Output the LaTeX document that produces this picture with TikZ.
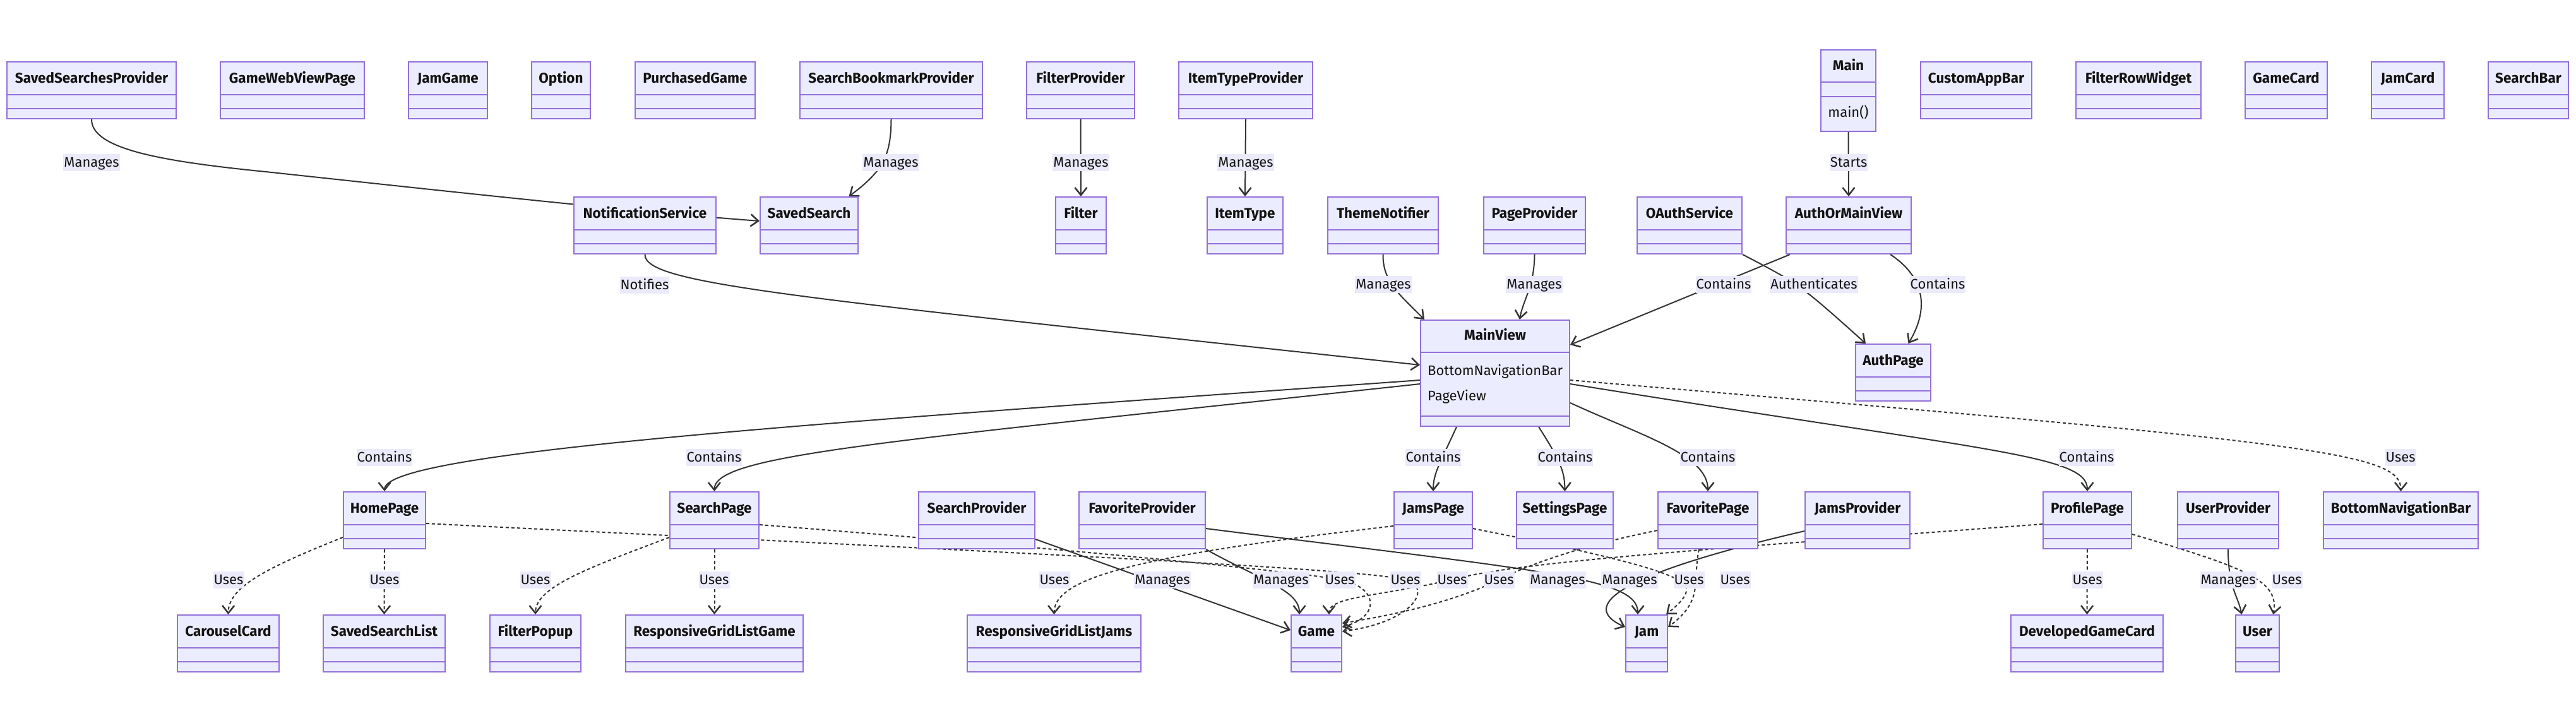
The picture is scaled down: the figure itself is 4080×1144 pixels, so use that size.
\documentclass[tikz,border=0pt]{standalone}
\usepackage{fontspec}
\setmainfont{Fira Sans}
\usetikzlibrary{arrows.meta,calc}
\definecolor{boxfill}{HTML}{ECECFF}
\definecolor{boxline}{HTML}{9370DB}
\definecolor{edgec}{HTML}{333333}
\definecolor{lblfill}{HTML}{EAEAFA}
\definecolor{txt}{HTML}{131313}
\pgfdeclarelayer{bg}
\pgfsetlayers{bg,main}
\tikzset{
  clsbox/.style={draw=boxline, fill=boxfill, line width=2pt, inner sep=0pt},
  divline/.style={draw=boxline, line width=2pt},
  clstitle/.style={font=\fontsize{22.5}{26}\selectfont\bfseries, text=txt, anchor=base, inner sep=0pt},
  member/.style={font=\fontsize{22}{26}\selectfont, text=txt, anchor=base, inner sep=0pt},
  lbl/.style={fill=lblfill, font=\fontsize{22}{26}\selectfont, text=txt, inner xsep=1pt, inner ysep=3pt, text height=18pt, text depth=3pt},
  rel/.style={draw=edgec, line width=2pt, -{Straight Barb[length=12pt,width=19pt,line width=2.5pt]}},
  uses/.style={rel, dash pattern=on 5pt off 4pt},
}
\newcommand\umlcls[4]{%
  \pgfmathsetmacro\ucx{(#2+#3)/2}%
  \pgfmathsetmacro\ucw{#3-#2}%
  \pgfmathsetmacro\ucy{#4+45}%
  \node[clsbox, minimum width=\ucw pt, minimum height=90pt] (#1) at (\ucx,\ucy) {};
  \draw[divline] (#2,#4+52) -- (#3,#4+52) (#2,#4+74) -- (#3,#4+74);
  \node[clstitle] (#1-t) at (\ucx,#4+33) {#1};
}
\begin{document}
\begin{tikzpicture}[x=1pt,y=-1pt]
\useasboundingbox (0,0) rectangle (4080,1144);
% ---------- row 1
\umlcls{SavedSearchesProvider}{11}{279}{98}
\umlcls{GameWebViewPage}{349}{577}{98}
\umlcls{JamGame}{647}{772}{98}
\umlcls{Option}{842}{935}{98}
\umlcls{PurchasedGame}{1006}{1196}{98}
\umlcls{SearchBookmarkProvider}{1267}{1556}{98}
\umlcls{FilterProvider}{1626}{1797}{98}
\umlcls{ItemTypeProvider}{1867}{2079}{98}
\umlcls{CustomAppBar}{3042}{3218}{98}
\umlcls{FilterRowWidget}{3288}{3486}{98}
\umlcls{GameCard}{3556}{3686}{98}
\umlcls{JamCard}{3756}{3871}{98}
\umlcls{SearchBar}{3941}{4068}{98}
% Main
\node[clsbox, minimum width=87pt, minimum height=129pt] (Main) at (2927.5,143.5) {};
\draw[divline] (2884,130) -- (2971,130) (2884,153) -- (2971,153);
\node[clstitle] (Main-t) at (2927.5,111) {Main};
\node[member] (Main-m) at (2927.5,185) {main()};
% ---------- row 2
\umlcls{NotificationService}{909}{1134}{312}
\umlcls{SavedSearch}{1204}{1359}{312}
\umlcls{Filter}{1672}{1752}{312}
\umlcls{ItemType}{1912}{2032}{312}
\umlcls{ThemeNotifier}{2103}{2278}{312}
\umlcls{PageProvider}{2350}{2511}{312}
\umlcls{OAuthService}{2593}{2759}{312}
\umlcls{AuthOrMainView}{2829}{3027}{312}
% MainView
\node[clsbox, minimum width=236pt, minimum height=168pt] (MainView) at (2368,591) {};
\draw[divline] (2250,558) -- (2486,558) (2250,659) -- (2486,659);
\node[clstitle] (MainView-t) at (2368,538) {MainView};
\node[member, anchor=base west] (MainView-a1) at (2261,594) {BottomNavigationBar};
\node[member, anchor=base west] (MainView-a2) at (2261,634) {PageView};
\umlcls{AuthPage}{2939}{3058}{545}
% ---------- row 3
\umlcls{HomePage}{544}{674}{779}
\umlcls{SearchPage}{1061}{1202}{779}
\umlcls{SearchProvider}{1455}{1639}{779}
\umlcls{FavoriteProvider}{1709}{1909}{779}
\umlcls{JamsPage}{2208}{2332}{779}
\umlcls{SettingsPage}{2402}{2555}{779}
\umlcls{FavoritePage}{2626}{2784}{779}
\umlcls{JamsProvider}{2859}{3025}{779}
\umlcls{ProfilePage}{3236}{3376}{779}
\umlcls{UserProvider}{3449}{3609}{779}
\umlcls{BottomNavigationBar}{3680}{3925}{779}
% ---------- row 4
\umlcls{CarouselCard}{281}{442}{974}
\umlcls{SavedSearchList}{512}{705}{974}
\umlcls{FilterPopup}{776}{920}{974}
\umlcls{ResponsiveGridListGame}{991}{1272}{974}
\umlcls{ResponsiveGridListJams}{1532}{1807}{974}
\umlcls{Game}{2045}{2125}{974}
\umlcls{Jam}{2575}{2641}{974}
\umlcls{DevelopedGameCard}{3185}{3426}{974}
\umlcls{User}{3541}{3610}{974}

% ---------- connectors
\begin{pgfonlayer}{bg}
\fill[white] (0,0) rectangle (4080,1144);
\draw[rel] (SavedSearchesProvider.south) .. controls (145,235) and (250,255) .. (421,272) .. controls (700,302) and (1000,335) .. ([yshift=7pt]SavedSearch.west);
\draw[rel] (SearchBookmarkProvider.south) .. controls (1411,245) and (1400,270) .. ([xshift=63pt]SavedSearch.north);
\draw[rel] (FilterProvider.south) -- (Filter.north);
\draw[rel] (ItemTypeProvider.south) -- (ItemType.north);
\draw[rel] (Main.south) -- (AuthOrMainView.north);
\draw[rel] (NotificationService.south) .. controls (1021,450) and (1250,470) .. ([yshift=13pt]MainView.west);
\draw[rel] (ThemeNotifier.south) .. controls (2190,445) and (2215,465) .. ([xshift=7pt]MainView.north west);
\draw[rel] (PageProvider.south) .. controls (2430,455) and (2412,475) .. ([xshift=39pt]MainView.north);
\draw[rel] ([xshift=7pt]AuthOrMainView.south west) -- ([yshift=-40pt]MainView.north east);
\draw[rel] (OAuthService.south east) .. controls (2850,450) .. ([xshift=17pt]AuthPage.north west);
\draw[rel] ([xshift=66pt]AuthOrMainView.south) .. controls (3050,440) and (3055,490) .. ([xshift=24pt]AuthPage.north);
% MainView contains
\draw[rel] ([yshift=-11pt]MainView.west) .. controls (1300,670) and (609,715) .. (HomePage.north);
\draw[rel] ([yshift=-17pt]MainView.west) .. controls (1400,700) and (1131,720) .. (SearchPage.north);
\draw[rel] ([xshift=-61pt]MainView.south) .. controls (2280,735) and (2270,750) .. (JamsPage.north);
\draw[rel] ([xshift=69pt]MainView.south) .. controls (2475,735) and (2478,750) .. (SettingsPage.north);
\draw[rel] ([yshift=-47pt]MainView.east) .. controls (2600,690) and (2705,720) .. (FavoritePage.north);
\draw[rel] ([yshift=-17pt]MainView.east) .. controls (3150,715) and (3306,720) .. (ProfilePage.north);
\draw[uses] ([yshift=-11pt]MainView.east) .. controls (3650,700) and (3803,715) .. (BottomNavigationBar.north);
% pages use
\draw[uses] ([yshift=-27pt]HomePage.west) .. controls (420,900) and (362,930) .. (CarouselCard.north);
\draw[uses] (HomePage.south) -- (SavedSearchList.north);
\draw[uses] ([yshift=-27pt]SearchPage.west) .. controls (930,900) and (848,930) .. (FilterPopup.north);
\draw[uses] (SearchPage.south) -- (ResponsiveGridListGame.north);
\draw[uses] ([yshift=-9pt]JamsPage.west) .. controls (1800,880) and (1670,915) .. (ResponsiveGridListJams.north);
% providers
\draw[rel] ([yshift=-30pt]SearchProvider.east) -- ([yshift=21pt]Game.west);
\draw[rel] (FavoriteProvider.south east) .. controls (2000,920) and (2058,935) .. ([xshift=-27pt]Game.north);
\draw[rel] ([yshift=-13pt]FavoriteProvider.east) .. controls (2450,905) and (2594,915) .. ([xshift=-14pt]Jam.north);
\draw[rel] ([yshift=-17pt]JamsProvider.west) .. controls (2560,910) and (2500,960) .. ([yshift=26pt]Jam.west);
\draw[rel] (UserProvider.south) .. controls (3529,930) and (3545,945) .. ([xshift=-25pt]User.north);
\draw[uses] ([yshift=-22pt]ProfilePage.east) .. controls (3560,900) and (3610,920) .. ([xshift=25pt]User.north);
\draw[uses] (ProfilePage.south) -- (DevelopedGameCard.north);
% uses Game / Jam
\draw[uses] ([yshift=-5pt]HomePage.east) .. controls (1600,875) and (2150,900) .. (2226,918) .. controls (2270,930) and (2240,985) .. ([yshift=19pt]Game.east);
\draw[uses] ([yshift=-7pt]SearchPage.east) .. controls (1700,870) and (2050,905) .. (2122,918) .. controls (2180,928) and (2190,975) .. ([yshift=26pt]Game.east);
\draw[uses] ([yshift=-6pt]ProfilePage.west) .. controls (2700,870) and (2400,890) .. (2300,918) .. controls (2180,945) and (2105,945) .. ([xshift=20pt]Game.north);
\draw[uses] ([yshift=-16pt]FavoritePage.west) .. controls (2500,865) and (2420,895) .. (2374,918) .. controls (2300,955) and (2200,975) .. ([yshift=32pt]Game.east);
\draw[uses] ([yshift=-13pt]JamsPage.east) .. controls (2500,870) and (2640,900) .. (2668,925) .. controls (2680,940) and (2655,960) .. ([xshift=31pt]Jam.north);
\draw[uses] ([xshift=-14pt]FavoritePage.south) .. controls (2680,920) and (2700,950) .. ([yshift=26pt]Jam.east);
\end{pgfonlayer}

% ---------- labels
\node[lbl] (L1) at (145,257) {Manages};
\node[lbl] (L2) at (1411,257) {Manages};
\node[lbl] (L3) at (1712,257) {Manages};
\node[lbl] (L4) at (1973,257) {Manages};
\node[lbl] (L5) at (2928,257) {Starts};
\node[lbl] (L6) at (1021,451) {Notifies};
\node[lbl] (L7) at (2191,450) {Manages};
\node[lbl] (L8) at (2430,450) {Manages};
\node[lbl] (L9) at (2730,450) {Contains};
\node[lbl] (L10) at (2873,450) {Authenticates};
\node[lbl] (L11) at (3069,450) {Contains};
\node[lbl] (L12) at (609,724) {Contains};
\node[lbl] (L13) at (1131,724) {Contains};
\node[lbl] (L14) at (2270,724) {Contains};
\node[lbl] (L15) at (2479,724) {Contains};
\node[lbl] (L16) at (2705,724) {Contains};
\node[lbl] (L17) at (3305,724) {Contains};
\node[lbl] (L18) at (3802,724) {Uses};
\node[lbl] (L19) at (362,918) {Uses};
\node[lbl] (L20) at (609,918) {Uses};
\node[lbl] (L21) at (848,918) {Uses};
\node[lbl] (L22) at (1131,918) {Uses};
\node[lbl] (L23) at (1670,918) {Uses};
\node[lbl] (L24) at (1841,918) {Manages};
\node[lbl] (L25) at (2029,918) {Manages};
\node[lbl] (L26) at (2122,918) {Uses};
\node[lbl] (L27) at (2226,918) {Uses};
\node[lbl] (L28) at (2300,918) {Uses};
\node[lbl] (L29) at (2374,918) {Uses};
\node[lbl] (L30) at (2467,918) {Manages};
\node[lbl] (L31) at (2581,918) {Manages};
\node[lbl] (L32) at (2675,918) {Uses};
\node[lbl] (L33) at (2748,918) {Uses};
\node[lbl] (L34) at (3306,918) {Uses};
\node[lbl] (L35) at (3529,918) {Manages};
\node[lbl] (L36) at (3622,918) {Uses};
\end{tikzpicture}
\end{document}
